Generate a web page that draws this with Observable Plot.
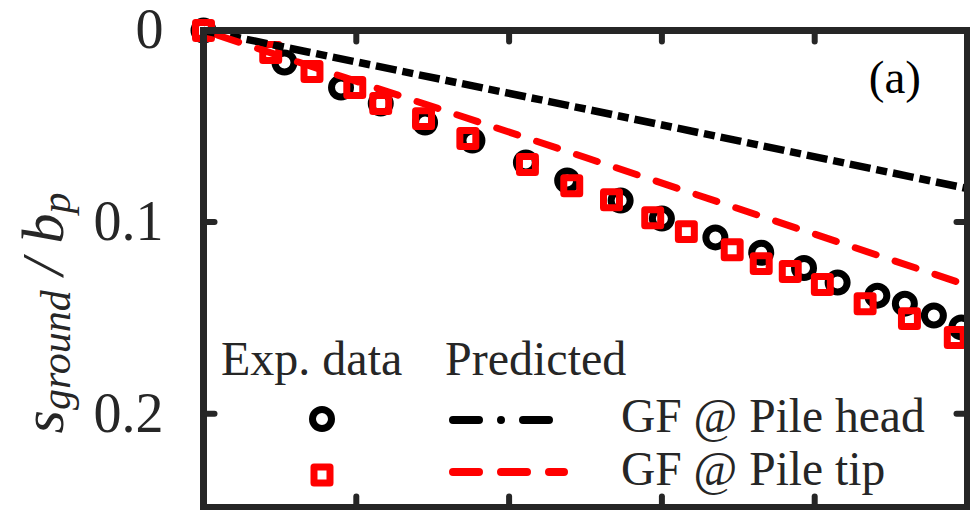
<!DOCTYPE html>
<html>
<head>
<meta charset="utf-8">
<script src="https://cdn.jsdelivr.net/npm/d3@7"></script>
<script src="https://cdn.jsdelivr.net/npm/@observablehq/plot@0.6"></script>
<style>
  html, body { margin: 0; padding: 0; background: #fff; }
  #chart { width: 970px; height: 510px; }
</style>
</head>
<body>
<div id="chart"></div>
<script>
// ---- data ----
const xTicks = [1, 2, 3, 4];
const yTicks = [0, 0.1, 0.2];
const yTickLabels = ["0", "0.1", "0.2"];

// Exp. data, GF @ Pile head (black circles)
const expHeadX = [0, 0.53, 0.90, 1.16, 1.45, 1.76, 2.11, 2.38, 2.73, 3.00, 3.35, 3.65, 3.93, 4.15, 4.41, 4.59, 4.78, 4.96];
const expHeadY = [0, 0.0167, 0.0298, 0.0381, 0.0480, 0.0574, 0.0689, 0.0783, 0.0888, 0.0982, 0.1080, 0.1160, 0.1240, 0.1316, 0.1384, 0.1426, 0.1488, 0.1550];

// Exp. data, GF @ Pile tip (red squares)
const expTipX = [0, 0.44, 0.71, 0.99, 1.16, 1.44, 1.73, 2.12, 2.41, 2.67, 2.94, 3.16, 3.46, 3.65, 3.84, 4.05, 4.33, 4.62, 4.92];
const expTipY = [0, 0.0115, 0.0214, 0.0298, 0.0381, 0.0460, 0.0564, 0.0700, 0.0810, 0.0883, 0.0977, 0.1050, 0.1144, 0.1217, 0.1258, 0.1326, 0.1426, 0.1504, 0.1603];

// Predicted lines
const predX = [0, 2.5, 5];
const predHeadY = [0, 0.041, 0.0825];
const predTipY = [0, 0.0663, 0.133];

const legendHeaders = ["Exp. data", "Predicted"];
const legendLabels = ["GF @ Pile head", "GF @ Pile tip"];
const panelLabel = "(a)";

// ---- build tables ----
const headPts = expHeadX.map((x, i) => ({x, y: expHeadY[i]}));
const tipPts = expTipX.map((x, i) => ({x, y: expTipY[i]}));
const headLine = predX.map((x, i) => ({x, y: predHeadY[i]}));
const tipLine = predX.map((x, i) => ({x, y: predTipY[i]}));

const axisColor = "#262626";
const serif = "'Liberation Serif', 'Times New Roman', serif";
const tickShape = {draw(context, l) { context.moveTo(0, 0); context.lineTo(0, -l); }};
const tickOpts = {length: 11, anchor: "start", shape: tickShape, stroke: axisColor, strokeWidth: 6, strokeLinecap: "round"};

const chart = Plot.plot({
  width: 970,
  height: 510,
  marginLeft: 203,
  marginRight: 3,
  marginTop: 30,
  marginBottom: 3,
  style: {background: "white", fontFamily: serif},
  x: {domain: [0, 5], axis: null},
  y: {domain: [0, 0.249], reverse: true, axis: null},
  marks: [
    Plot.axisY(yTicks, {
      anchor: "left", tickSize: 0, tickPadding: 40, fontSize: 56, label: null,
      fontFamily: serif, fill: axisColor, stroke: null,
      tickFormat: d => yTickLabels[yTicks.indexOf(d)]
    }),
    Plot.dot(headPts, {x: "x", y: "y", r: 9.5, stroke: "#000", strokeWidth: 7, fill: "none"}),
    Plot.dot(tipPts, {x: "x", y: "y", symbol: "square", r: 9, stroke: "#ff0000", strokeWidth: 7, fill: "none", strokeLinejoin: "round"}),
    Plot.line(headLine, {x: "x", y: "y", stroke: "#000", strokeWidth: 7.5, strokeLinecap: "butt", strokeDasharray: "21 6 11 6"}),
    Plot.line(tipLine, {x: "x", y: "y", stroke: "#ff0000", strokeWidth: 7, strokeDasharray: "22 20", strokeDashoffset: 27}),
    Plot.frame({stroke: axisColor, strokeWidth: 7}),
    Plot.vector(xTicks, {...tickOpts, x: d => d, y: 0, rotate: 180}),
    Plot.vector(xTicks, {...tickOpts, x: d => d, y: 0.249, rotate: 0}),
    Plot.vector(yTicks.filter(d => d > 0), {...tickOpts, x: 0, y: d => d, rotate: 90}),
    Plot.vector(yTicks.filter(d => d > 0), {...tickOpts, x: 5, y: d => d, rotate: 270})
  ]
});

document.getElementById("chart").appendChild(chart);
const svg = d3.select(chart);

// y-axis label: s_ground / b_p
const yl = svg.append("text")
  .attr("transform", "translate(63,313) rotate(-90)")
  .attr("text-anchor", "middle")
  .style("font-family", serif)
  .style("font-style", "italic")
  .style("font-size", "60px")
  .attr("fill", axisColor);
yl.append("tspan").text("s");
yl.append("tspan").style("font-size", "42px").attr("dy", 7).text("ground");
yl.append("tspan").attr("dy", -7).text(" / b");
yl.append("tspan").style("font-size", "42px").attr("dy", 7).text("p");

// panel label
svg.append("text").attr("x", 921).attr("y", 93).attr("text-anchor", "end")
  .style("font-family", serif).style("font-size", "47px").attr("fill", "#000").text(panelLabel);

// legend
const lg = svg.append("g").attr("text-anchor", "start").style("font-family", serif).attr("fill", axisColor);
lg.append("text").attr("x", 221).attr("y", 375).style("font-size", "48px").text(legendHeaders[0]);
lg.append("text").attr("x", 445).attr("y", 375).style("font-size", "48px").text(legendHeaders[1]);
lg.append("text").attr("x", 621).attr("y", 432).style("font-size", "47.5px").text(legendLabels[0]);
lg.append("text").attr("x", 621).attr("y", 485).style("font-size", "47.5px").text(legendLabels[1]);
lg.append("circle").attr("cx", 322).attr("cy", 419).attr("r", 9.5)
  .attr("fill", "none").attr("stroke", "#000").attr("stroke-width", 7);
lg.append("rect").attr("x", 314).attr("y", 467).attr("width", 16).attr("height", 16)
  .attr("fill", "none").attr("stroke", "#ff0000").attr("stroke-width", 7).attr("stroke-linejoin", "round");
lg.append("line").attr("x1", 453).attr("x2", 552).attr("y1", 420).attr("y2", 420)
  .attr("stroke", "#000").attr("stroke-width", 8).attr("stroke-linecap", "round").attr("stroke-dasharray", "26,22,0,22");
lg.append("line").attr("x1", 453).attr("x2", 564).attr("y1", 472).attr("y2", 472)
  .attr("stroke", "#ff0000").attr("stroke-width", 8).attr("stroke-linecap", "round").attr("stroke-dasharray", "26,22");
</script>
</body>
</html>
